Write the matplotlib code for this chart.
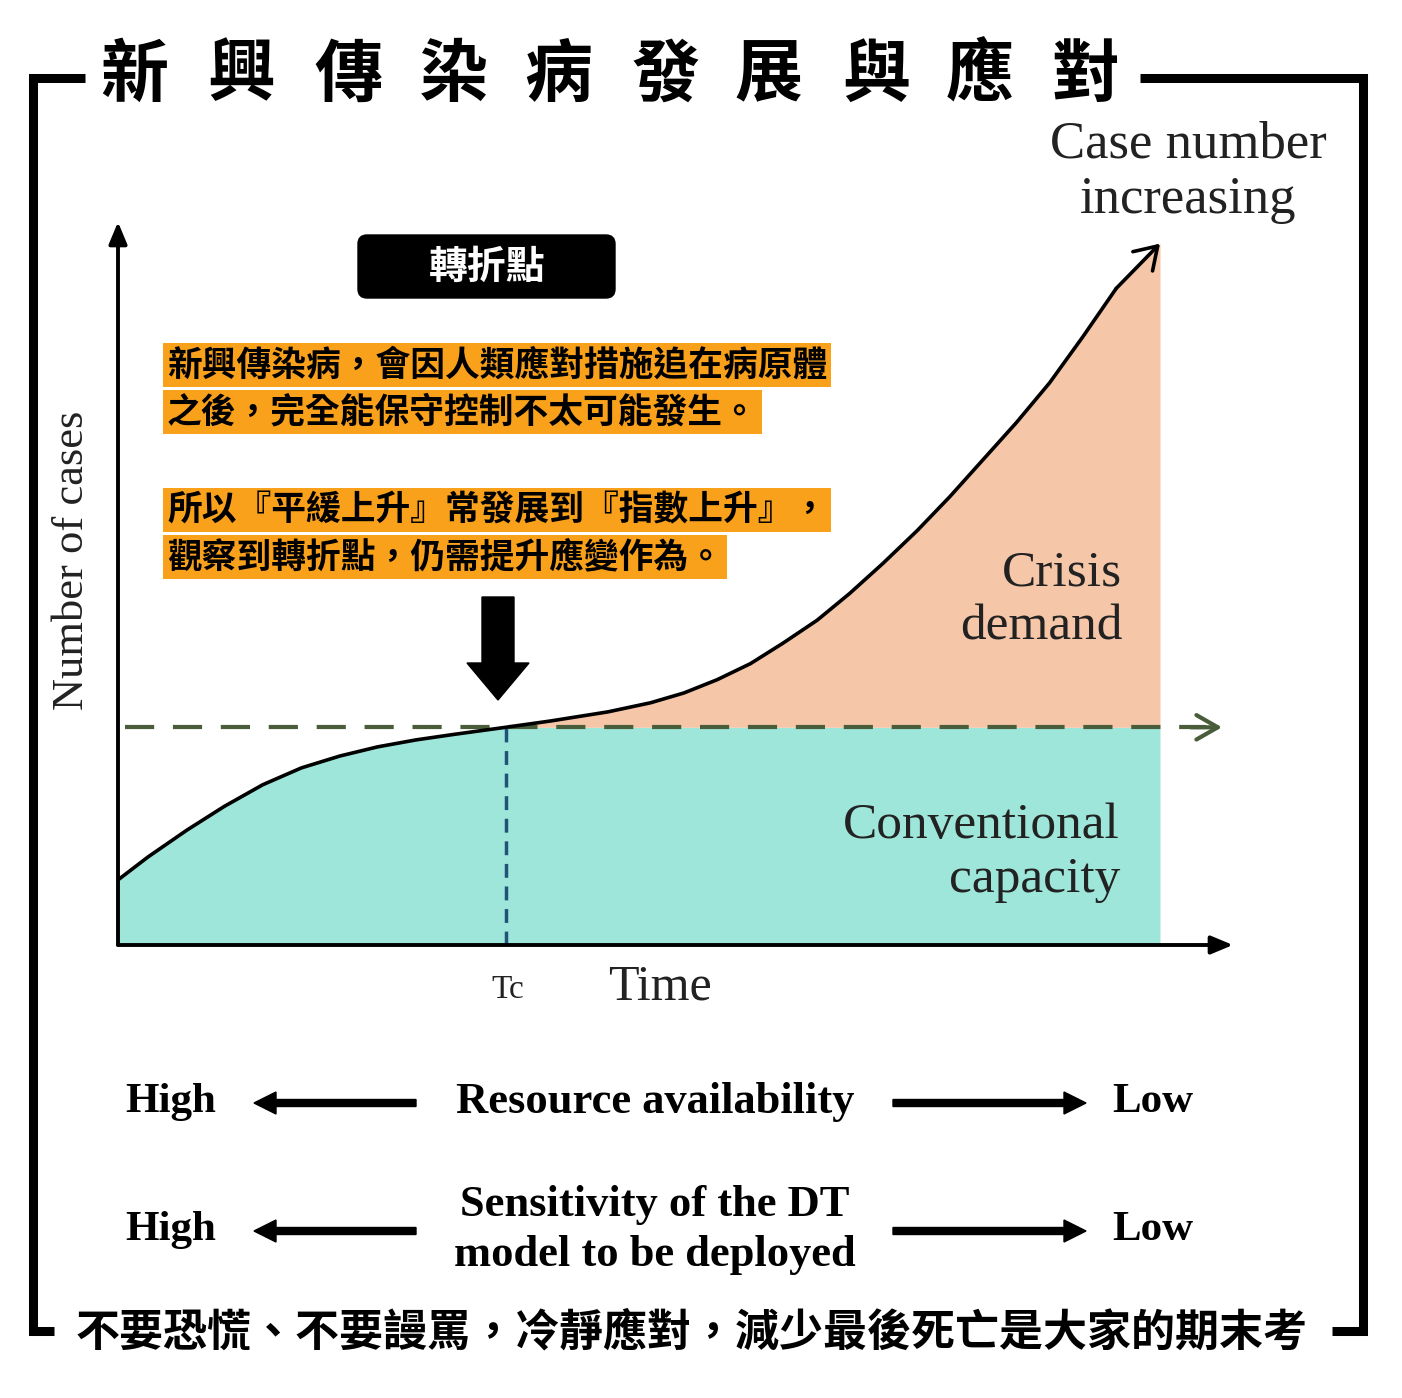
import numpy as np
import matplotlib
matplotlib.use("Agg")
import matplotlib.pyplot as plt
from matplotlib.patches import FancyBboxPatch, FancyArrow

# ---------------- data ----------------
time = [0.00, 0.29, 0.66, 1.02, 1.39, 1.76, 2.13, 2.49, 2.86, 3.23, 3.72, 4.15, 4.70,
        5.11, 5.43, 5.75, 6.07, 6.38, 6.71, 7.02, 7.34, 7.67, 7.98, 8.30, 8.62, 8.94,
        9.26, 9.58, 10.0]
cases = [9.3, 12.6, 16.4, 19.8, 22.9, 25.3, 27.0, 28.3, 29.3, 30.1, 31.1, 32.0, 33.3,
         34.6, 36.0, 37.9, 40.2, 43.1, 46.4, 50.2, 54.5, 59.2, 64.0, 69.3, 74.6, 80.3,
         86.9, 93.8, 100.2]
capacity = 31.1
tc = 3.72

title_chars = ["新", "興", "傳", "染", "病", "發", "展", "與", "應", "對"]
badge_text = "轉折點"
note_lines = ["新興傳染病，會因人類應對措施追在病原體",
              "之後，完全能保守控制不太可能發生。",
              "所以『平緩上升』常發展到『指數上升』，",
              "觀察到轉折點，仍需提升應變作為。"]
footer_text = "不要恐慌、不要謾罵，冷靜應對，減少最後死亡是大家的期末考"
row_labels = ["Resource availability", "Sensitivity of the DT\nmodel to be deployed"]
high_label, low_label = "High", "Low"

TEAL = "#9ee6da"
PEACH = "#f6c6a8"
ORANGE = "#f9a11b"
CJK = ["Noto Sans CJK TC", "DejaVu Sans"]
SERIF = "Liberation Serif"

W, H = 1402, 1398
fig = plt.figure(figsize=(W / 100, H / 100), dpi=100)
fig.patch.set_facecolor("white")

# ---------------- chart axes ----------------
px_per_t = 104.2
px_per_v = 7.0
ax_l, ax_r, ax_b, ax_t = 118, 1240, 945, 210
ax = fig.add_axes([ax_l / W, (H - ax_b) / H, (ax_r - ax_l) / W, (ax_b - ax_t) / H])
ax.set_xlim(0, (ax_r - ax_l) / px_per_t)
ax.set_ylim(0, (ax_b - ax_t) / px_per_v)
ax.axis("off")

t = np.array(time)
c = np.array(cases)
ax.fill_between(t, 0, np.minimum(c, capacity), color=TEAL, lw=0, zorder=1)
ax.fill_between(t, capacity, c, where=c >= capacity, interpolate=True, color=PEACH, lw=0, zorder=1)

# curve with arrow head
ax.plot(t[:-1], c[:-1], color="black", lw=2.6, zorder=4, solid_capstyle="round",
        solid_joinstyle="round")
ax.annotate("", xy=(t[-1], c[-1]), xytext=(t[-2], c[-2]),
            arrowprops=dict(arrowstyle="->,head_length=0.7,head_width=0.45", color="black", lw=2.6,
                            shrinkA=0, shrinkB=0, mutation_scale=22), zorder=4)

# capacity dashed line
cap_x0 = (125 - ax_l) / px_per_t
cap_x1 = (1222 - ax_l) / px_per_t
ax.plot([cap_x0, cap_x1 - 0.15], [capacity, capacity], color="#4a5d3a", lw=3, dashes=(7, 4.5), zorder=3)
ax.annotate("", xy=(cap_x1, capacity), xytext=(cap_x1 - 0.3, capacity),
            arrowprops=dict(arrowstyle="->,head_length=0.7,head_width=0.4", color="#4a5d3a", lw=3,
                            shrinkA=0, shrinkB=0, mutation_scale=22), zorder=3)

# Tc vertical dashed line
ax.plot([tc, tc], [0, capacity], color="#1f5478", lw=2.5, dashes=(4, 2.5), zorder=3)

# axes arrows
ax.annotate("", xy=(0, (ax_b - 222) / px_per_v), xytext=(0, 0),
            arrowprops=dict(arrowstyle="-|>,head_length=0.6,head_width=0.25", color="black", lw=2.8,
                            shrinkA=0, shrinkB=0, mutation_scale=22), zorder=5)
ax.annotate("", xy=((1233 - ax_l) / px_per_t, 0), xytext=(0, 0),
            arrowprops=dict(arrowstyle="-|>,head_length=0.6,head_width=0.25", color="black", lw=2.8,
                            shrinkA=0, shrinkB=0, mutation_scale=22), zorder=5)

# ---------------- overlay (pixel coordinates) ----------------
ov = fig.add_axes([0, 0, 1, 1], zorder=10)
ov.set_xlim(0, W)
ov.set_ylim(H, 0)
ov.axis("off")
ov.patch.set_alpha(0)

# frame brackets
fw = 6.5
ov.plot([85, 33, 33, 54], [78, 78, 1331, 1331], color="black", lw=fw,
        solid_joinstyle="miter", solid_capstyle="butt")
ov.plot([1140, 1363, 1363, 1332], [78, 78, 1331, 1331], color="black", lw=fw,
        solid_joinstyle="miter", solid_capstyle="butt")

# title characters
title_x = [134, 241, 348, 454, 558, 665, 768, 876, 980, 1085]
for ch, x in zip(title_chars, title_x):
    ov.text(x, 76, ch, family=CJK, fontsize=49, fontweight="bold", ha="center", va="center", color="black")

# badge
ov.add_patch(FancyBboxPatch((358, 235), 257, 63, boxstyle="round,pad=0,rounding_size=9",
                            fc="black", ec="black"))
ov.text(487, 267, badge_text, family=CJK, fontsize=28, fontweight="bold", color="white",
        ha="center", va="center")

# orange notes
note_y = [365, 412, 510, 557]
for s, y in zip(note_lines, note_y):
    ov.text(167, y, s, family=CJK, fontsize=25, fontweight="bold", color="black", ha="left", va="center",
            bbox=dict(boxstyle="square,pad=0.12", fc=ORANGE, ec="none"))

# big down arrow
ov.add_patch(FancyArrow(498, 597, 0, 103, width=32, head_width=62, head_length=37,
                        length_includes_head=True, fc="black", ec="black"))

# chart labels
ov.text(1188, 172, "Case number\nincreasing", family=SERIF, fontsize=38, ha="center", va="center",
        linespacing=1.2, color="#222222")
ov.text(1122, 600, "Crisis\ndemand", family=SERIF, fontsize=37, ha="right", va="center",
        linespacing=1.2, color="#222222")
ov.text(1120, 853, "Conventional\ncapacity", family=SERIF, fontsize=37, ha="right", va="center",
        linespacing=1.2, color="#222222")
ov.text(72, 560, "Number of cases", family=SERIF, fontsize=32, rotation=90, ha="center", va="center",
        color="#222222")
ov.text(508, 990, "Tc", family=SERIF, fontsize=24, ha="center", va="center", color="#222222")
ov.text(660, 987, "Time", family=SERIF, fontsize=36, ha="center", va="center", color="#222222")

# bottom rows
rows_y = [1102, 1230]
for lab, y in zip(row_labels, rows_y):
    ov.text(125, y, high_label, family=SERIF, fontsize=31, fontweight="bold", ha="left", va="center")
    ov.text(1112, y, low_label, family=SERIF, fontsize=31, fontweight="bold", ha="left", va="center")
    ov.text(655, y, lab, family=SERIF, fontsize=32, fontweight="bold", ha="center", va="center",
            linespacing=1.3)
    ov.add_patch(FancyArrow(416, y + 1, -162, 0, width=7, head_width=22, head_length=22,
                            length_includes_head=True, fc="black", ec="black"))
    ov.add_patch(FancyArrow(893, y + 1, 193, 0, width=7, head_width=22, head_length=22,
                            length_includes_head=True, fc="black", ec="black"))

# footer
ov.text(692, 1333, footer_text, family=CJK, fontsize=31.7, fontweight="bold", ha="center", va="center",
        color="black")

fig.savefig("out.png", dpi=100, facecolor="white")
